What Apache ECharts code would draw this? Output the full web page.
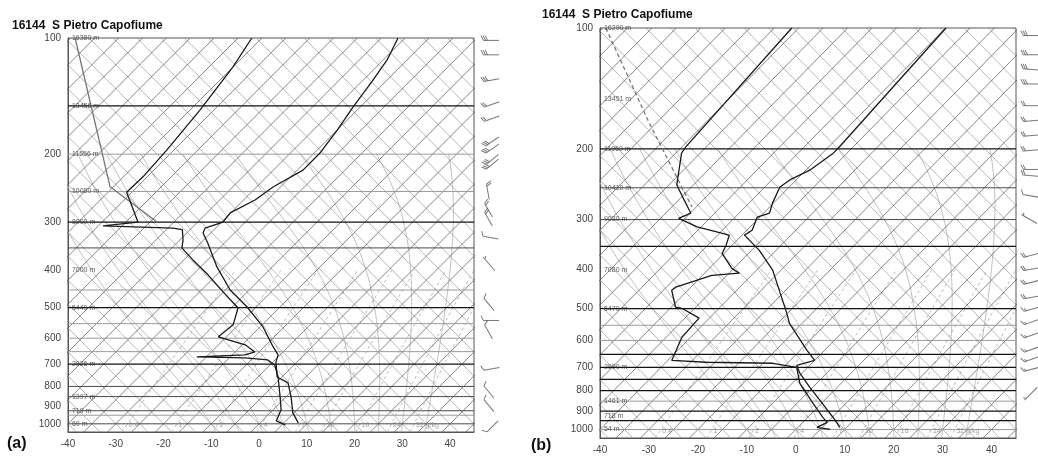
<!DOCTYPE html>
<html>
<head>
<meta charset="utf-8">
<script src="https://cdn.jsdelivr.net/npm/echarts@6/dist/echarts.min.js"></script>
<style>
html,body{margin:0;padding:0;background:#fff;}
#c{width:1038px;height:459px;}
</style>
</head>
<body>
<div id="c"></div>
<script>
// ---------------- DATA ----------------
const STATION_TITLE = '16144  S Pietro Capofiume';
const PANEL_LABELS = ['(a)', '(b)'];
const PRESSURE_TICKS = [100, 200, 300, 400, 500, 600, 700, 800, 900, 1000];
const TEMP_TICKS = [-40, -30, -20, -10, 0, 10, 20, 30, 40];
const MIXING_RATIOS = [0.4, 1, 2, 4, 7, 10, 16, 24, 32];
const MIXING_LABELS = ['0.4', '1', '2', '4', '7', '10', '16', '24', '32 g/kg'];

// Panel (a): temperature profile (hPa, °C)
const A_T_P = [100, 114, 129, 151, 173, 199, 220, 243, 263, 284, 300, 311, 320, 340, 392, 450, 498, 561, 632, 663, 691, 756, 783, 852, 937, 994];
const A_T   = [-51.5, -49.2, -47.9, -46.5, -45.0, -43.8, -43.8, -46.5, -47.6, -50.1, -49.7, -52.2, -51.6, -48.5, -41.6, -34.0, -26.9, -19.4, -13.1, -10.4, -9.4, -6.0, -2.5, 1.1, 4.8, 8.0];
// Panel (a): dew point profile
const A_TD_P = [100, 119, 154, 195, 229, 251, 300, 307, 311, 314, 334, 350, 376, 411, 455, 501, 554, 595, 624, 651, 663, 671, 675, 683, 704, 756, 852, 920, 983, 1006];
const A_TD   = [-82.1, -80.0, -77.9, -76.5, -75.9, -76.1, -67.5, -74.0, -58.9, -56.6, -54.3, -52.9, -48.1, -41.8, -35.1, -28.6, -26.1, -26.7, -19.4, -15.9, -17.3, -27.0, -16.7, -11.5, -9.0, -5.8, -1.2, 1.7, 3.0, 5.7];
// Panel (a): grey parcel curve
const A_PARCEL_P = [100, 243, 300];
const A_PARCEL   = [-119.1, -80.7, -63.5];
// Panel (a): standard levels and heights
const A_LEVEL_P = [100, 150, 200, 250, 300, 400, 500, 700, 850, 925, 1000];
const A_LEVEL_H = ['16380 m', '13456 m', '11556 m', '10080 m', '8900 m', '7000 m', '5440 m', '2926 m', '1397 m', '719 m', '69 m'];
const A_ISOBARS_DARK  = [150, 300, 500, 700];
const A_ISOBARS_MID   = [350, 800, 850, 925, 1000];
const A_ISOBARS_LIGHT = [200, 250, 450, 550, 600, 650, 950];
// Panel (a): winds
const A_WIND_P   = [100, 109, 127, 147, 160, 184, 192, 205, 211, 248, 276, 291, 324, 383, 483, 532, 570, 711, 815, 884, 1010];
const A_WIND_DIR = [270, 270, 260, 250, 250, 235, 235, 230, 230, 350, 330, 330, 280, 320, 320, 270, 330, 260, 320, 320, 225];
const A_WIND_KT  = [30, 30, 30, 20, 20, 30, 30, 30, 30, 20, 20, 20, 10, 5, 10, 10, 10, 10, 10, 10, 10];

// Panel (b): temperature profile
const B_T_P = [100, 199, 205, 226, 239, 249, 273, 289, 296, 319, 328, 358, 401, 513, 544, 635, 673, 692, 725, 785, 846, 933, 988];
const B_T   = [-49.9, -47.8, -47.8, -49.2, -51.3, -51.9, -50.2, -48.8, -50.5, -48.9, -49.5, -43.4, -36.7, -25.2, -22.6, -13.6, -10.0, -12.7, -10.4, -5.6, -0.9, 5.2, 8.6];
// Panel (b): dew point profile
const B_TD_P = [100, 198, 205, 246, 268, 289, 298, 313, 328, 348, 364, 397, 408, 413, 442, 450, 496, 499, 528, 589, 673, 680, 684, 700, 768, 861, 933, 960, 988, 999];
const B_TD   = [-81.4, -79.2, -78.8, -73.4, -68.9, -64.9, -66.3, -60.8, -52.6, -51.2, -50.4, -45.4, -42.9, -48.1, -53.1, -53.3, -49.1, -47.6, -42.1, -41.8, -39.2, -31.8, -18.0, -12.3, -8.4, -1.7, 3.1, 5.0, 3.9, 7.0];
// Panel (b): dashed parcel curve
const B_PARCEL_P = [100, 170, 279];
const B_PARCEL   = [-119.4, -92.2, -65.9];
// Panel (b): standard levels and heights
const B_LEVEL_P = [100, 150, 200, 250, 300, 400, 500, 700, 850, 925, 1000];
const B_LEVEL_H = ['16290 m', '13451 m', '11960 m', '10410 m', '9030 m', '7080 m', '5470 m', '2990 m', '1461 m', '718 m', '54 m'];
const B_ISOBARS_DARK  = [200, 350, 500, 650, 700, 750, 800, 900, 950];
const B_ISOBARS_MID   = [250, 300];
const B_ISOBARS_LIGHT = [550, 600, 850, 1000];
// Panel (b): winds
const B_WIND_P   = [103, 115, 125, 136, 154, 168, 183, 199, 222, 230, 258, 297, 364, 394, 425, 463, 496, 534, 576, 625, 661, 700, 810];
const B_WIND_DIR = [270, 270, 275, 270, 270, 265, 265, 265, 270, 275, 280, 300, 255, 260, 255, 260, 255, 250, 250, 250, 250, 255, 225];
const B_WIND_KT  = [30, 30, 30, 30, 20, 20, 20, 20, 20, 20, 10, 5, 20, 20, 20, 20, 15, 15, 15, 15, 15, 15, 5];

// ---------------- DIAGRAM GEOMETRY ----------------
const FONT = 'Liberation Sans, Arial, sans-serif';
const K = 35;              // skew of the diagram (°C per ln p)
const P_TOP = 100, P_BOT = 1050;
const X_MIN = -40, X_MAX = 45;
const skewX = (t, p) => t + K * Math.log(1000 / p);

function es(tk) { return 6.112 * Math.exp(17.67 * (tk - 273.15) / (tk - 29.65)); }
function moistRate(tk, p) {
  const e = es(tk);
  const rs = 0.622 * e / (p - e);
  const L = 2.501e6, Rd = 287.04, cp = 1005.7;
  return (Rd * tk + L * rs) / (p * (cp + L * L * rs * 0.622 / (Rd * tk * tk)));
}
function moistCurve(t0) {
  let tk = t0 + 273.15, p = 1000;
  const step = 5;
  while (p < P_BOT) { const k1 = moistRate(tk, p), k2 = moistRate(tk + k1 * step, p + step); tk += 0.5 * (k1 + k2) * step; p += step; }
  const pts = [[skewX(tk - 273.15, p), p]];
  while (p > 200) { const k1 = moistRate(tk, p), k2 = moistRate(tk - k1 * step, p - step); tk -= 0.5 * (k1 + k2) * step; p -= step; pts.push([skewX(tk - 273.15, p), p]); }
  return pts;
}
function tdFromMix(w, p) {
  const e = w * p / (622 + w);
  const l = Math.log(e / 6.112);
  return 243.5 * l / (17.67 - l);
}

function buildBackground() {
  const iso = [], dry = [], moist = [], mix = [];
  for (let t = -125; t <= 45; t += 5) iso.push([[skewX(t, P_BOT), P_BOT], [skewX(t, P_TOP), P_TOP]]);
  for (let c = -45; c <= 135; c += 5) dry.push([[c - K * Math.log(1000 / P_BOT), P_BOT], [c - K * Math.log(1000 / P_TOP), P_TOP]]);
  for (let t = -10; t <= 35; t += 5) moist.push(moistCurve(t));
  MIXING_RATIOS.forEach(w => {
    const pts = [];
    for (let p = P_BOT; p >= 400; p -= 25) pts.push([skewX(tdFromMix(w, p), p), p]);
    mix.push(pts);
  });
  return { iso, dry, moist, mix };
}

function barbPath(kt) {
  let full = Math.floor(kt / 10), half = (kt % 10) >= 5 ? 1 : 0;
  let d = 'M0 26 L0 0';
  let y = 0;
  for (let i = 0; i < full; i++) { d += ' M0 ' + y + ' L8 ' + (y - 4); y += 3.5; }
  if (half) { if (full === 0) y = 3.5; d += ' M0 ' + y + ' L4 ' + (y - 2); }
  d += ' M0 26 L0 26';
  return 'path://' + d;
}

// ---------------- OPTION ----------------
const BG = buildBackground();
const panels = [
  { grid: { left: 68, top: 38, width: 406, height: 394 }, wind: { left: 478, top: 38, width: 24, height: 394 },
    T: [A_T_P, A_T], TD: [A_TD_P, A_TD], parcel: [A_PARCEL_P, A_PARCEL], parcelType: 'solid',
    levels: [A_LEVEL_P, A_LEVEL_H], dark: A_ISOBARS_DARK, mid: A_ISOBARS_MID, light: A_ISOBARS_LIGHT,
    winds: [A_WIND_P, A_WIND_DIR, A_WIND_KT], windX: 0.5 },
  { grid: { left: 600, top: 28, width: 416, height: 410 }, wind: { left: 1020, top: 28, width: 18, height: 410 },
    T: [B_T_P, B_T], TD: [B_TD_P, B_TD], parcel: [B_PARCEL_P, B_PARCEL], parcelType: 'dashed',
    levels: [B_LEVEL_P, B_LEVEL_H], dark: B_ISOBARS_DARK, mid: B_ISOBARS_MID, light: B_ISOBARS_LIGHT,
    winds: [B_WIND_P, B_WIND_DIR, B_WIND_KT], windX: 0.55 }
];

const grid = [], xAxis = [], yAxis = [], series = [];
panels.forEach((pn, i) => {
  grid.push(Object.assign({ show: true, borderColor: '#555', borderWidth: 1, backgroundColor: '#fff' }, pn.grid));
  xAxis.push({ gridIndex: i, type: 'value', min: X_MIN, max: X_MAX, interval: 10,
    axisLine: { show: true, onZero: false, lineStyle: { color: '#555' } }, axisTick: { show: false }, splitLine: { show: false },
    axisLabel: { color: '#444', fontSize: 10, fontFamily: FONT, margin: 7, showMaxLabel: false,
      formatter: v => TEMP_TICKS.indexOf(v) >= 0 ? String(v) : '' } });
  yAxis.push({ gridIndex: i, type: 'log', logBase: 10, min: P_TOP, max: P_BOT, inverse: true,
    axisLine: { show: true, onZero: false, lineStyle: { color: '#555' } }, axisTick: { show: false }, splitLine: { show: false },
    axisLabel: { customValues: PRESSURE_TICKS, color: '#444', fontSize: 10, fontFamily: FONT, margin: 7,
      formatter: v => String(Math.round(v)) } });
});
panels.forEach((pn, i) => {
  const gi = panels.length + i;
  grid.push(Object.assign({ show: false }, pn.wind));
  xAxis.push({ gridIndex: gi, type: 'value', min: 0, max: 1, show: false });
  yAxis.push({ gridIndex: gi, type: 'log', logBase: 10, min: P_TOP, max: P_BOT, inverse: true, show: false });
});

function linesSeries(i, coordsList, color, width, type, z) {
  return { type: 'lines', coordinateSystem: 'cartesian2d', xAxisIndex: i, yAxisIndex: i, polyline: true,
    silent: true, clip: true, z: z, animation: false,
    lineStyle: { color: color, width: width, type: type || 'solid', opacity: 1, curveness: 0 },
    data: coordsList.map(c => ({ coords: c })) };
}

panels.forEach((pn, i) => {
  series.push(linesSeries(i, BG.mix, '#a8a8a8', 0.8, [3, 3], 1));
  series.push(linesSeries(i, BG.moist, '#b0b0b0', 0.8, 'solid', 1));
  series.push(linesSeries(i, BG.dry, '#9a9a9a', 0.7, 'solid', 2));
  series.push(linesSeries(i, BG.iso, '#505050', 0.7, 'solid', 3));
  const iso = arr => arr.map(p => [[X_MIN, p], [X_MAX, p]]);
  series.push(linesSeries(i, iso(pn.light), '#9a9a9a', 1, 'solid', 4));
  series.push(linesSeries(i, iso(pn.mid), '#4a4a4a', 1, 'solid', 4));
  series.push(linesSeries(i, iso(pn.dark), '#111', 1.2, 'solid', 4));

  // parcel curve
  series.push({ type: 'line', xAxisIndex: i, yAxisIndex: i, silent: true, symbol: 'none', animation: false, z: 6,
    lineStyle: { color: '#777', width: 1.3, type: pn.parcelType === 'dashed' ? [4, 3] : 'solid' },
    data: pn.parcel[0].map((p, k) => [skewX(pn.parcel[1][k], p), p]) });
  // temperature and dew point
  [pn.T, pn.TD].forEach(prof => {
    series.push({ type: 'line', xAxisIndex: i, yAxisIndex: i, silent: true, symbol: 'none', animation: false, z: 10,
      lineStyle: { color: '#1a1a1a', width: 1.3 },
      data: prof[0].map((p, k) => [skewX(prof[1][k], p), p]) });
  });
  // height labels
  series.push({ type: 'scatter', xAxisIndex: i, yAxisIndex: i, silent: true, symbolSize: 0, z: 12, animation: false,
    label: { show: true, position: 'right', distance: 2, formatter: '{b}', fontSize: 7, color: '#333', fontFamily: FONT },
    data: pn.levels[0].map((p, k) => ({ value: [X_MIN + 0.4, p], name: pn.levels[1][k] })) });
  // mixing ratio labels
  series.push({ type: 'scatter', xAxisIndex: i, yAxisIndex: i, silent: true, symbolSize: 0, z: 12, animation: false,
    label: { show: true, position: 'right', distance: 1, formatter: '{b}', fontSize: 7, color: '#888', fontFamily: FONT },
    data: MIXING_RATIOS.map((w, k) => ({ value: [skewX(tdFromMix(w, 1010), 1010) + 0.3, 1010], name: MIXING_LABELS[k] })) });
  // wind barbs
  const gi = panels.length + i;
  series.push({ type: 'scatter', xAxisIndex: gi, yAxisIndex: gi, silent: true, animation: false, z: 12,
    symbolKeepAspect: true, symbolSize: 18,
    itemStyle: { color: 'none', borderColor: '#555', borderWidth: 1 },
    data: pn.winds[0].map((p, k) => ({ value: [pn.windX, p], symbol: barbPath(pn.winds[2][k]), symbolRotate: -pn.winds[1][k] })) });
});

const option = {
  animation: false,
  backgroundColor: '#fff',
  title: [
    { text: STATION_TITLE, left: 12, top: 20, padding: 0, textStyle: { fontSize: 12, fontWeight: 'bold', color: '#111', fontFamily: FONT } },
    { text: STATION_TITLE, left: 542, top: 9, padding: 0, textStyle: { fontSize: 12, fontWeight: 'bold', color: '#111', fontFamily: FONT } },
    { text: PANEL_LABELS[0], left: 7, top: 436, padding: 0, textStyle: { fontSize: 16, fontWeight: 'bold', color: '#111', fontFamily: FONT } },
    { text: PANEL_LABELS[1], left: 531, top: 438, padding: 0, textStyle: { fontSize: 16, fontWeight: 'bold', color: '#111', fontFamily: FONT } }
  ],
  grid: grid, xAxis: xAxis, yAxis: yAxis, series: series
};

const chart = echarts.init(document.getElementById('c'), null, { renderer: 'canvas' });
chart.setOption(option);
</script>
</body>
</html>
